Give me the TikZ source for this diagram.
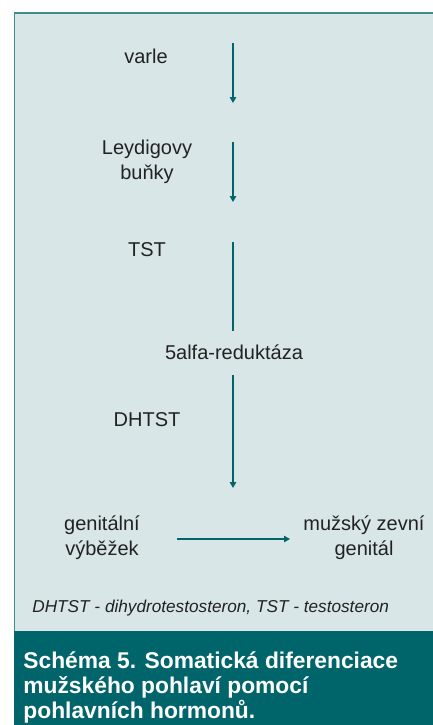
\documentclass[tikz,border=0pt]{standalone}
\usepackage{fontspec}
\setmainfont{Liberation Sans}
\usetikzlibrary{arrows.meta, positioning, calc}
\definecolor{boxbg}{HTML}{D9E6E8}
\definecolor{tealdark}{HTML}{00646B}
\definecolor{tealline}{HTML}{3E8C90}
\definecolor{textgray}{HTML}{222222}
\begin{document}
\begin{tikzpicture}[x=0.5pt, y=-0.5pt,
  label/.style={anchor=base, align=center, inner sep=0pt, text=textgray, font=\fontsize{10}{12.5}\selectfont},
  arrow/.style={-{Triangle[width=3.2pt, length=3pt]}, line width=0.65pt, tealdark},
  plain/.style={line width=0.65pt, tealdark}]
  \useasboundingbox (0,0) rectangle (433,725);
  \fill[boxbg] (14,12) rectangle (433,631);
  \draw[tealline, line width=1pt] (14,13) -- (433,13);
  \draw[tealline, line width=0.7pt] (14.5,12) -- (14.5,631);
  \fill[tealdark] (14,631) rectangle (433,725);
  \node[label] (varle) at (146,63) {varle};
  \node[label] (leydig) at (147,179) {Leydigovy\\buňky};
  \node[label] (tst) at (147,256) {TST};
  \node[label] (reduk) at (234,359) {5alfa-reduktáza};
  \node[label] (dhtst) at (147,426) {DHTST};
  \node[label] (vybezek) at (102,555) {genitální\\výběžek};
  \node[label] (zevni) at (364,555) {mužský zevní\\genitál};
  \node[anchor=base west, inner sep=0pt, text=textgray, font=\fontsize{8.6}{10}\selectfont\itshape] (note) at (32,612) {DHTST - dihydrotestosteron, TST - testosteron};
  \node[anchor=base west, align=left, inner sep=0pt, text=white, font=\fontsize{11.4}{12.5}\selectfont\bfseries] (caption) at (23,718) {Schéma 5. Somatická diferenciace\\mužského pohlaví pomocí\\pohlavních hormonů.};
  \coordinate (a1) at (233,43);  \coordinate (b1) at (233,103);
  \coordinate (a2) at (233,142); \coordinate (b2) at (233,202);
  \coordinate (a3) at (233,242); \coordinate (b3) at (233,331);
  \coordinate (a4) at (233,375); \coordinate (b4) at (233,488);
  \coordinate (a5) at (177,539); \coordinate (b5) at (290,539);
  \draw[arrow] (a1) -- (b1);
  \draw[arrow] (a2) -- (b2);
  \draw[plain] (a3) -- (b3);
  \draw[arrow] (a4) -- (b4);
  \draw[arrow] (a5) -- (b5);
\end{tikzpicture}
\end{document}
